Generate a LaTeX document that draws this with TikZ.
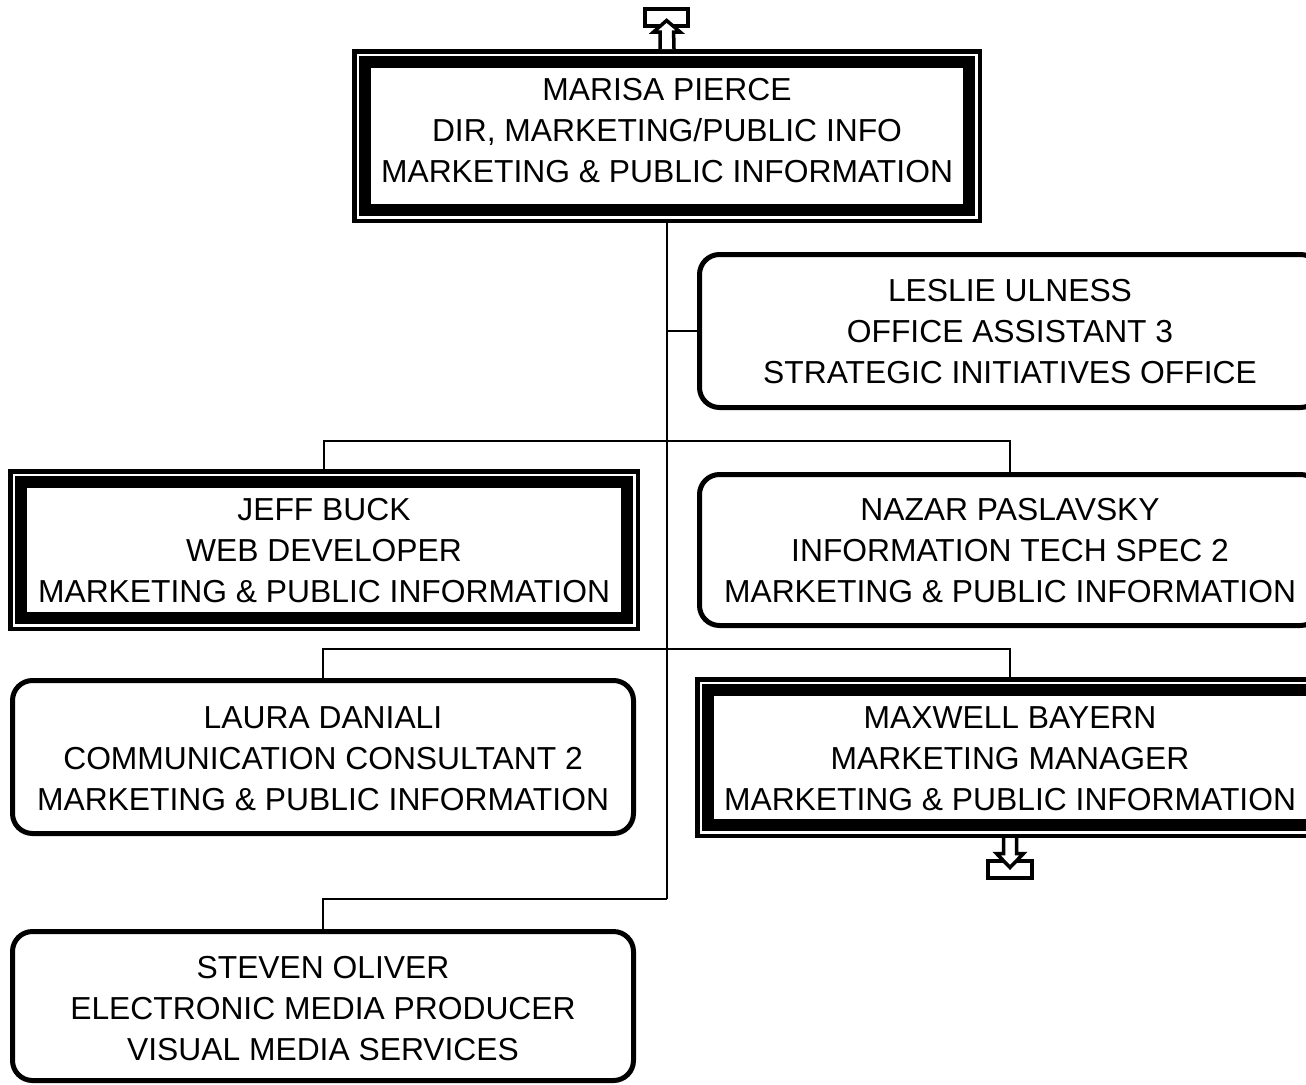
\documentclass[tikz,border=0pt]{standalone}
\usepackage{fontspec}
\setmainfont{Liberation Sans}
\begin{document}
\begin{tikzpicture}[x=1pt,y=-1pt,
  txt/.style={align=center,inner sep=0pt,font=\fontsize{31.8}{41}\selectfont},
  rbox/.style={draw,line width=5pt,rounded corners=20pt,inner sep=0pt,minimum width=621pt},
  dbox/.style={draw,line width=4.5pt,inner sep=0pt,minimum width=625.5pt,
    path picture={\draw[line width=12pt]
      ([xshift=10.75pt,yshift=-10.75pt]path picture bounding box.north west) rectangle
      ([xshift=-10.75pt,yshift=10.75pt]path picture bounding box.south east);}},
  conn/.style={line width=2.5pt},
  blk/.style={draw,line width=3.5pt,fill=white,line join=miter}]
\useasboundingbox (0,0) rectangle (1306,1084);
\clip (0,0) rectangle (1306,1084);

% boxes
\node[dbox,minimum height=169.5pt] (marisa) at (667,136) {};
\node[rbox,minimum height=153pt] (leslie) at (1010,331) {};
\node[dbox,minimum width=627.5pt,minimum height=157.5pt] (jeff) at (324,550) {};
\node[rbox,minimum height=151pt] (nazar) at (1010,550) {};
\node[rbox,minimum height=153pt] (laura) at (323,757) {};
\node[dbox,minimum height=156.5pt] (maxwell) at (1010,757.5) {};
\node[rbox,minimum height=149pt] (steven) at (323,1006) {};

% texts
\node[txt] (marisaT) at (667,130.5) {MARISA PIERCE\\DIR, MARKETING/PUBLIC INFO\\MARKETING \& PUBLIC INFORMATION};
\node[txt] (leslieT) at (1010,332) {LESLIE ULNESS\\OFFICE ASSISTANT 3\\STRATEGIC INITIATIVES OFFICE};
\node[txt] (jeffT) at (324,551) {JEFF BUCK\\WEB DEVELOPER\\MARKETING \& PUBLIC INFORMATION};
\node[txt] (nazarT) at (1010,551) {NAZAR PASLAVSKY\\INFORMATION TECH SPEC 2\\MARKETING \& PUBLIC INFORMATION};
\node[txt] (lauraT) at (323,759) {LAURA DANIALI\\COMMUNICATION CONSULTANT 2\\MARKETING \& PUBLIC INFORMATION};
\node[txt] (maxwellT) at (1010,759) {MAXWELL BAYERN\\MARKETING MANAGER\\MARKETING \& PUBLIC INFORMATION};
\node[txt] (stevenT) at (323,1009) {STEVEN OLIVER\\ELECTRONIC MEDIA PRODUCER\\VISUAL MEDIA SERVICES};

% connectors
\coordinate (trunkend) at (667,899);
\coordinate (lvl1) at (667,441);
\coordinate (lvl2) at (667,649);
\draw[conn] (marisa.south) -- (trunkend);
\draw[conn] (leslie.west) -- (leslie.west -| marisa.south);
\draw[conn] (jeff.north) |- (lvl1) -| (nazar.north);
\draw[conn] (laura.north) |- (lvl2) -| (maxwell.north);
\draw[conn] (steven.north) |- (trunkend);

% off-page arrows
\node[draw,line width=4pt,minimum width=43pt,minimum height=16.7pt,inner sep=0pt] (uparr) at (666.6,17.6) {};
\draw[blk] ([xshift=-7pt]marisa.north) -- ++(0,-17) -- ++(-6.5,0) -- (uparr.center |- 0,20.5) -- ++(13.5,11.5) -- ++(-6.5,0) -- ([xshift=7pt]marisa.north);
\node[draw,line width=4pt,minimum width=44pt,minimum height=17pt,inner sep=0pt] (downarr) at (1010,869.5) {};
\draw[blk] ([xshift=-6.5pt]maxwell.south) -- ++(0,15.5) -- ++(-7,0) -- (downarr.center |- 0,867.5) -- ++(13.5,-14) -- ++(-7,0) -- ([xshift=6.5pt]maxwell.south);
\end{tikzpicture}
\end{document}
